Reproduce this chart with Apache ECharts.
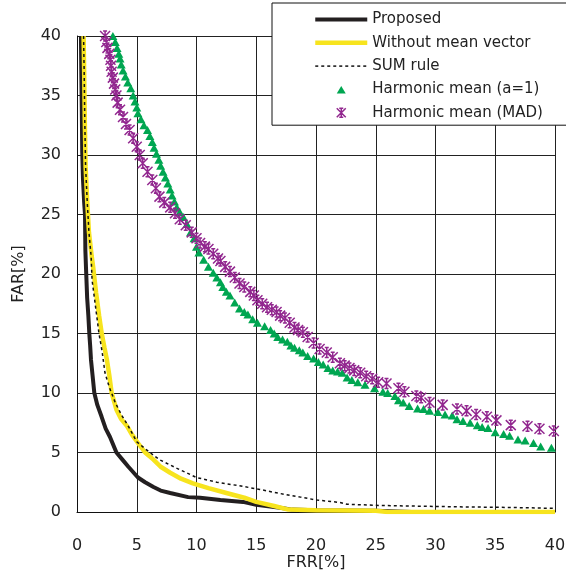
<!DOCTYPE html>
<html>
<head>
<meta charset="utf-8">
<script src="https://cdn.jsdelivr.net/npm/echarts@6/dist/echarts.min.js"></script>
<style>
html,body{margin:0;padding:0;background:#fff;}
#chart{width:566px;height:572px;}
</style>
</head>
<body>
<div id="chart"></div>
<script>
// ---- Data (FRR[%], FAR[%]) ----
const xTicks = [0, 5, 10, 15, 20, 25, 30, 35, 40];
const yTicks = [0, 5, 10, 15, 20, 25, 30, 35, 40];
const seriesNames = ['Proposed', 'Without mean vector', 'SUM rule', 'Harmonic mean (a=1)', 'Harmonic mean (MAD)'];

const proposed = [[0.33,40],[0.36,37],[0.4,34],[0.44,30.2],[0.5,28],[0.6,26],[0.67,25],[0.7,22],[0.75,20.6],[0.85,18],[0.95,16.5],[1.03,15],[1.1,14],[1.17,12.8],[1.3,11.5],[1.45,10],[1.7,9],[2.06,8],[2.4,7],[2.76,6.3],[3.3,5],[3.8,4.4],[4.3,3.8],[5.1,2.9],[5.7,2.5],[6.4,2.1],[7.0,1.8],[7.8,1.6],[9.3,1.25],[10.3,1.2],[12.0,1.0],[13.9,0.85],[15,0.6],[17,0.35],[18,0.2],[20,0.15],[25,0.1],[28,0.0],[40,0.0]];

const withoutMean = [[0.55,40],[0.6,37],[0.65,33],[0.72,29],[0.86,26],[1.0,23.5],[1.23,21.5],[1.35,20.6],[1.6,18.4],[1.85,16.5],[2.07,15],[2.3,13.8],[2.5,12.8],[2.7,11.5],[2.9,10],[3.3,8.6],[3.7,7.8],[4.2,7.2],[4.6,6.5],[5.1,5.8],[5.7,5.0],[6.4,4.4],[7.0,3.8],[7.8,3.3],[8.7,2.8],[9.7,2.4],[11,2.0],[12.5,1.6],[14,1.2],[15,0.85],[16.5,0.5],[17.7,0.2],[20,0.15],[25,0.1],[26,0.0],[40,0.0]];

const sumRule = [[0.55,40],[0.6,37],[0.65,33],[0.72,29],[0.86,26],[1.0,23.5],[1.18,21.5],[1.26,19.5],[1.52,17.5],[1.84,15],[2.1,13.5],[2.34,11.7],[2.7,10.5],[3.2,9.2],[3.7,8.2],[4.3,7.2],[5.0,5.9],[5.6,5.4],[6.1,5.0],[6.9,4.4],[8.3,3.7],[10,2.9],[11.7,2.5],[13.6,2.2],[15.3,1.9],[16.5,1.65],[17.8,1.4],[18.7,1.25],[20.1,1.0],[22,0.8],[22.6,0.65],[25.4,0.55],[28,0.5],[32.8,0.42],[35,0.4],[38,0.35],[40,0.3]];

const harmonicA1 = [[3.0,40.0],[3.2,39.5],[3.35,39.0],[3.5,38.5],[3.6,38.1],[3.7,37.6],[3.85,37.1],[4.05,36.6],[4.25,36.1],[4.5,35.6],[4.7,35.0],[4.85,34.5],[5.0,34.0],[5.1,33.5],[5.35,33.0],[5.6,32.5],[5.9,32.1],[6.1,31.6],[6.3,31.1],[6.45,30.6],[6.65,30.1],[6.85,29.6],[7.0,29.1],[7.2,28.6],[7.4,28.1],[7.6,27.6],[7.8,27.1],[7.95,26.6],[8.15,26.1],[8.35,25.6],[8.6,25.2],[8.9,24.8],[9.2,24.2],[9.5,23.5],[9.8,23.0],[10.0,22.3],[10.2,21.8],[10.6,21.2],[11.0,20.6],[11.4,20.1],[11.7,19.7],[12.0,19.3],[12.2,18.9],[12.5,18.5],[12.8,18.2],[13.2,17.6],[13.6,17.1],[14.0,16.8],[14.3,16.6],[14.7,16.2],[15.1,15.9],[15.7,15.6],[16.2,15.3],[16.5,15.0],[16.8,14.7],[17.2,14.5],[17.6,14.3],[17.9,14.0],[18.2,13.8],[18.6,13.6],[18.9,13.4],[19.3,13.1],[19.8,12.9],[20.2,12.6],[20.6,12.4],[21.0,12.1],[21.4,11.9],[21.8,11.8],[22.2,11.7],[22.6,11.3],[23.0,11.1],[23.5,10.9],[24.1,10.7],[24.9,10.4],[25.6,10.1],[26.0,10.0],[26.6,9.75],[26.9,9.4],[27.3,9.2],[27.8,8.9],[28.5,8.7],[29.0,8.65],[29.5,8.5],[30.2,8.4],[30.8,8.2],[31.4,8.1],[31.8,7.8],[32.3,7.65],[32.9,7.5],[33.5,7.3],[33.9,7.15],[34.4,7.05],[35.0,6.7],[35.7,6.55],[36.2,6.4],[36.9,6.1],[37.5,6.0],[38.2,5.8],[38.8,5.5],[39.7,5.4]];

const harmonicMAD = [[2.35,40.0],[2.45,39.5],[2.55,39.0],[2.7,38.5],[2.8,38.0],[2.85,37.5],[2.9,37.0],[3.0,36.5],[3.1,36.0],[3.2,35.5],[3.3,35.0],[3.4,34.4],[3.6,33.8],[3.85,33.2],[4.1,32.6],[4.4,32.1],[4.7,31.4],[5.0,30.7],[5.25,30.0],[5.5,29.3],[5.9,28.6],[6.3,27.9],[6.6,27.2],[6.9,26.5],[7.3,26.0],[7.8,25.6],[8.2,25.1],[8.6,24.6],[9.1,24.1],[9.6,23.5],[10.0,23.0],[10.3,22.6],[10.7,22.3],[11.0,22.1],[11.4,21.7],[11.8,21.3],[12.0,21.1],[12.4,20.6],[12.8,20.2],[13.2,19.7],[13.6,19.2],[14.0,18.9],[14.5,18.5],[14.8,18.2],[15.1,17.8],[15.5,17.5],[15.9,17.2],[16.3,17.0],[16.7,16.8],[17.0,16.5],[17.4,16.3],[17.8,15.9],[18.2,15.5],[18.5,15.3],[18.9,15.1],[19.3,14.7],[19.8,14.2],[20.3,13.7],[20.9,13.4],[21.4,13.0],[22.0,12.5],[22.4,12.3],[22.8,12.1],[23.2,11.9],[23.7,11.7],[24.2,11.4],[24.7,11.2],[25.2,10.9],[25.9,10.8],[26.9,10.4],[27.4,10.1],[28.4,9.75],[28.8,9.6],[29.5,9.2],[30.6,9.0],[31.8,8.65],[32.6,8.5],[33.4,8.2],[34.3,8.0],[35.1,7.7],[36.3,7.3],[37.7,7.2],[38.7,7.0],[39.9,6.8]];

const FONT = '"DejaVu Sans", "Liberation Sans", sans-serif';
const COLORS = ['#231f20', '#f7e41e', '#111111', '#00a651', '#92278f'];
const asterisk = 'path://M0,0L10,10M10,0L0,10M5,0L5,10M3,0L7,0M3,10L7,10';
const asteriskLegend = 'path://M0,0M12,12M1.5,1.5L10.5,10.5M10.5,1.5L1.5,10.5M6,1.5L6,10.5M4,1.5L8,1.5M4,10.5L8,10.5';
const triangleLegend = 'path://M0,0M12,12M6,2.5L10.5,10L1.5,10Z';
const hidden = {color: 'rgba(0,0,0,0)', borderWidth: 0, opacity: 0};

const chart = echarts.init(document.getElementById('chart'), null, {renderer: 'canvas'});
chart.setOption({
  animation: false,
  backgroundColor: '#ffffff',
  grid: {left: 77, right: 11, top: 36, bottom: 60, show: false, containLabel: false, outerBoundsMode: 'none'},
  xAxis: {
    type: 'value', min: xTicks[0], max: xTicks[xTicks.length - 1], interval: 5,
    name: 'FRR[%]', nameLocation: 'middle', nameGap: 43, nameMoveOverlap: false,
    nameTextStyle: {fontFamily: FONT, fontSize: 16, color: '#222', verticalAlign: 'top'},
    axisLine: {show: true, onZero: false, lineStyle: {color: '#111', width: 1}},
    axisTick: {show: false},
    axisLabel: {fontFamily: FONT, fontSize: 16, color: '#222', margin: 26},
    splitLine: {show: true, showMinLine: true, showMaxLine: true, lineStyle: {color: '#222', width: 1}}
  },
  yAxis: {
    type: 'value', min: yTicks[0], max: yTicks[yTicks.length - 1], interval: 5,
    name: 'FAR[%]', nameLocation: 'middle', nameGap: 50, nameRotate: 90, nameMoveOverlap: false,
    nameTextStyle: {fontFamily: FONT, fontSize: 16, color: '#222'},
    axisLine: {show: true, onZero: false, lineStyle: {color: '#111', width: 1}},
    axisTick: {show: false},
    axisLabel: {fontFamily: FONT, fontSize: 16, color: '#222', margin: 16},
    splitLine: {show: true, showMinLine: true, showMaxLine: true, lineStyle: {color: '#222', width: 1}}
  },
  legend: {
    orient: 'vertical', left: 272, top: 3,
    padding: [9, 60, 5, 41],
    itemWidth: 52, itemHeight: 12, itemGap: 8.3,
    backgroundColor: '#fff', borderColor: '#111', borderWidth: 1,
    textStyle: {fontFamily: FONT, fontSize: 15, color: '#222'},
    data: [
      {name: seriesNames[0], itemStyle: hidden, lineStyle: {color: COLORS[0], width: 4}},
      {name: seriesNames[1], itemStyle: hidden, lineStyle: {color: COLORS[1], width: 4.5}},
      {name: seriesNames[2], itemStyle: hidden, lineStyle: {color: COLORS[2], width: 1.5, type: [3, 3]}},
      {name: seriesNames[3], icon: triangleLegend, itemStyle: {color: COLORS[3], borderWidth: 0}},
      {name: seriesNames[4], icon: asteriskLegend, itemStyle: {color: COLORS[4], borderColor: COLORS[4], borderWidth: 1.5}}
    ]
  },
  series: [
    {name: seriesNames[0], type: 'line', data: proposed, symbol: 'none', z: 2,
     lineStyle: {color: COLORS[0], width: 4}, itemStyle: {color: COLORS[0]}},
    {name: seriesNames[1], type: 'line', data: withoutMean, symbol: 'none', z: 3,
     lineStyle: {color: COLORS[1], width: 4.5}, itemStyle: {color: COLORS[1]}},
    {name: seriesNames[2], type: 'line', data: sumRule, symbol: 'none', z: 4,
     lineStyle: {color: COLORS[2], width: 1.5, type: [3, 3]}, itemStyle: {color: COLORS[2]}},
    {name: seriesNames[3], type: 'scatter', data: harmonicA1, symbol: 'triangle', symbolSize: [9, 8], z: 5,
     itemStyle: {color: COLORS[3], opacity: 1}},
    {name: seriesNames[4], type: 'scatter', data: harmonicMAD, symbol: asterisk, symbolSize: [10, 10], z: 6,
     itemStyle: {color: COLORS[4], borderColor: COLORS[4], borderWidth: 1.5, opacity: 1}}
  ]
});
</script>
</body>
</html>
